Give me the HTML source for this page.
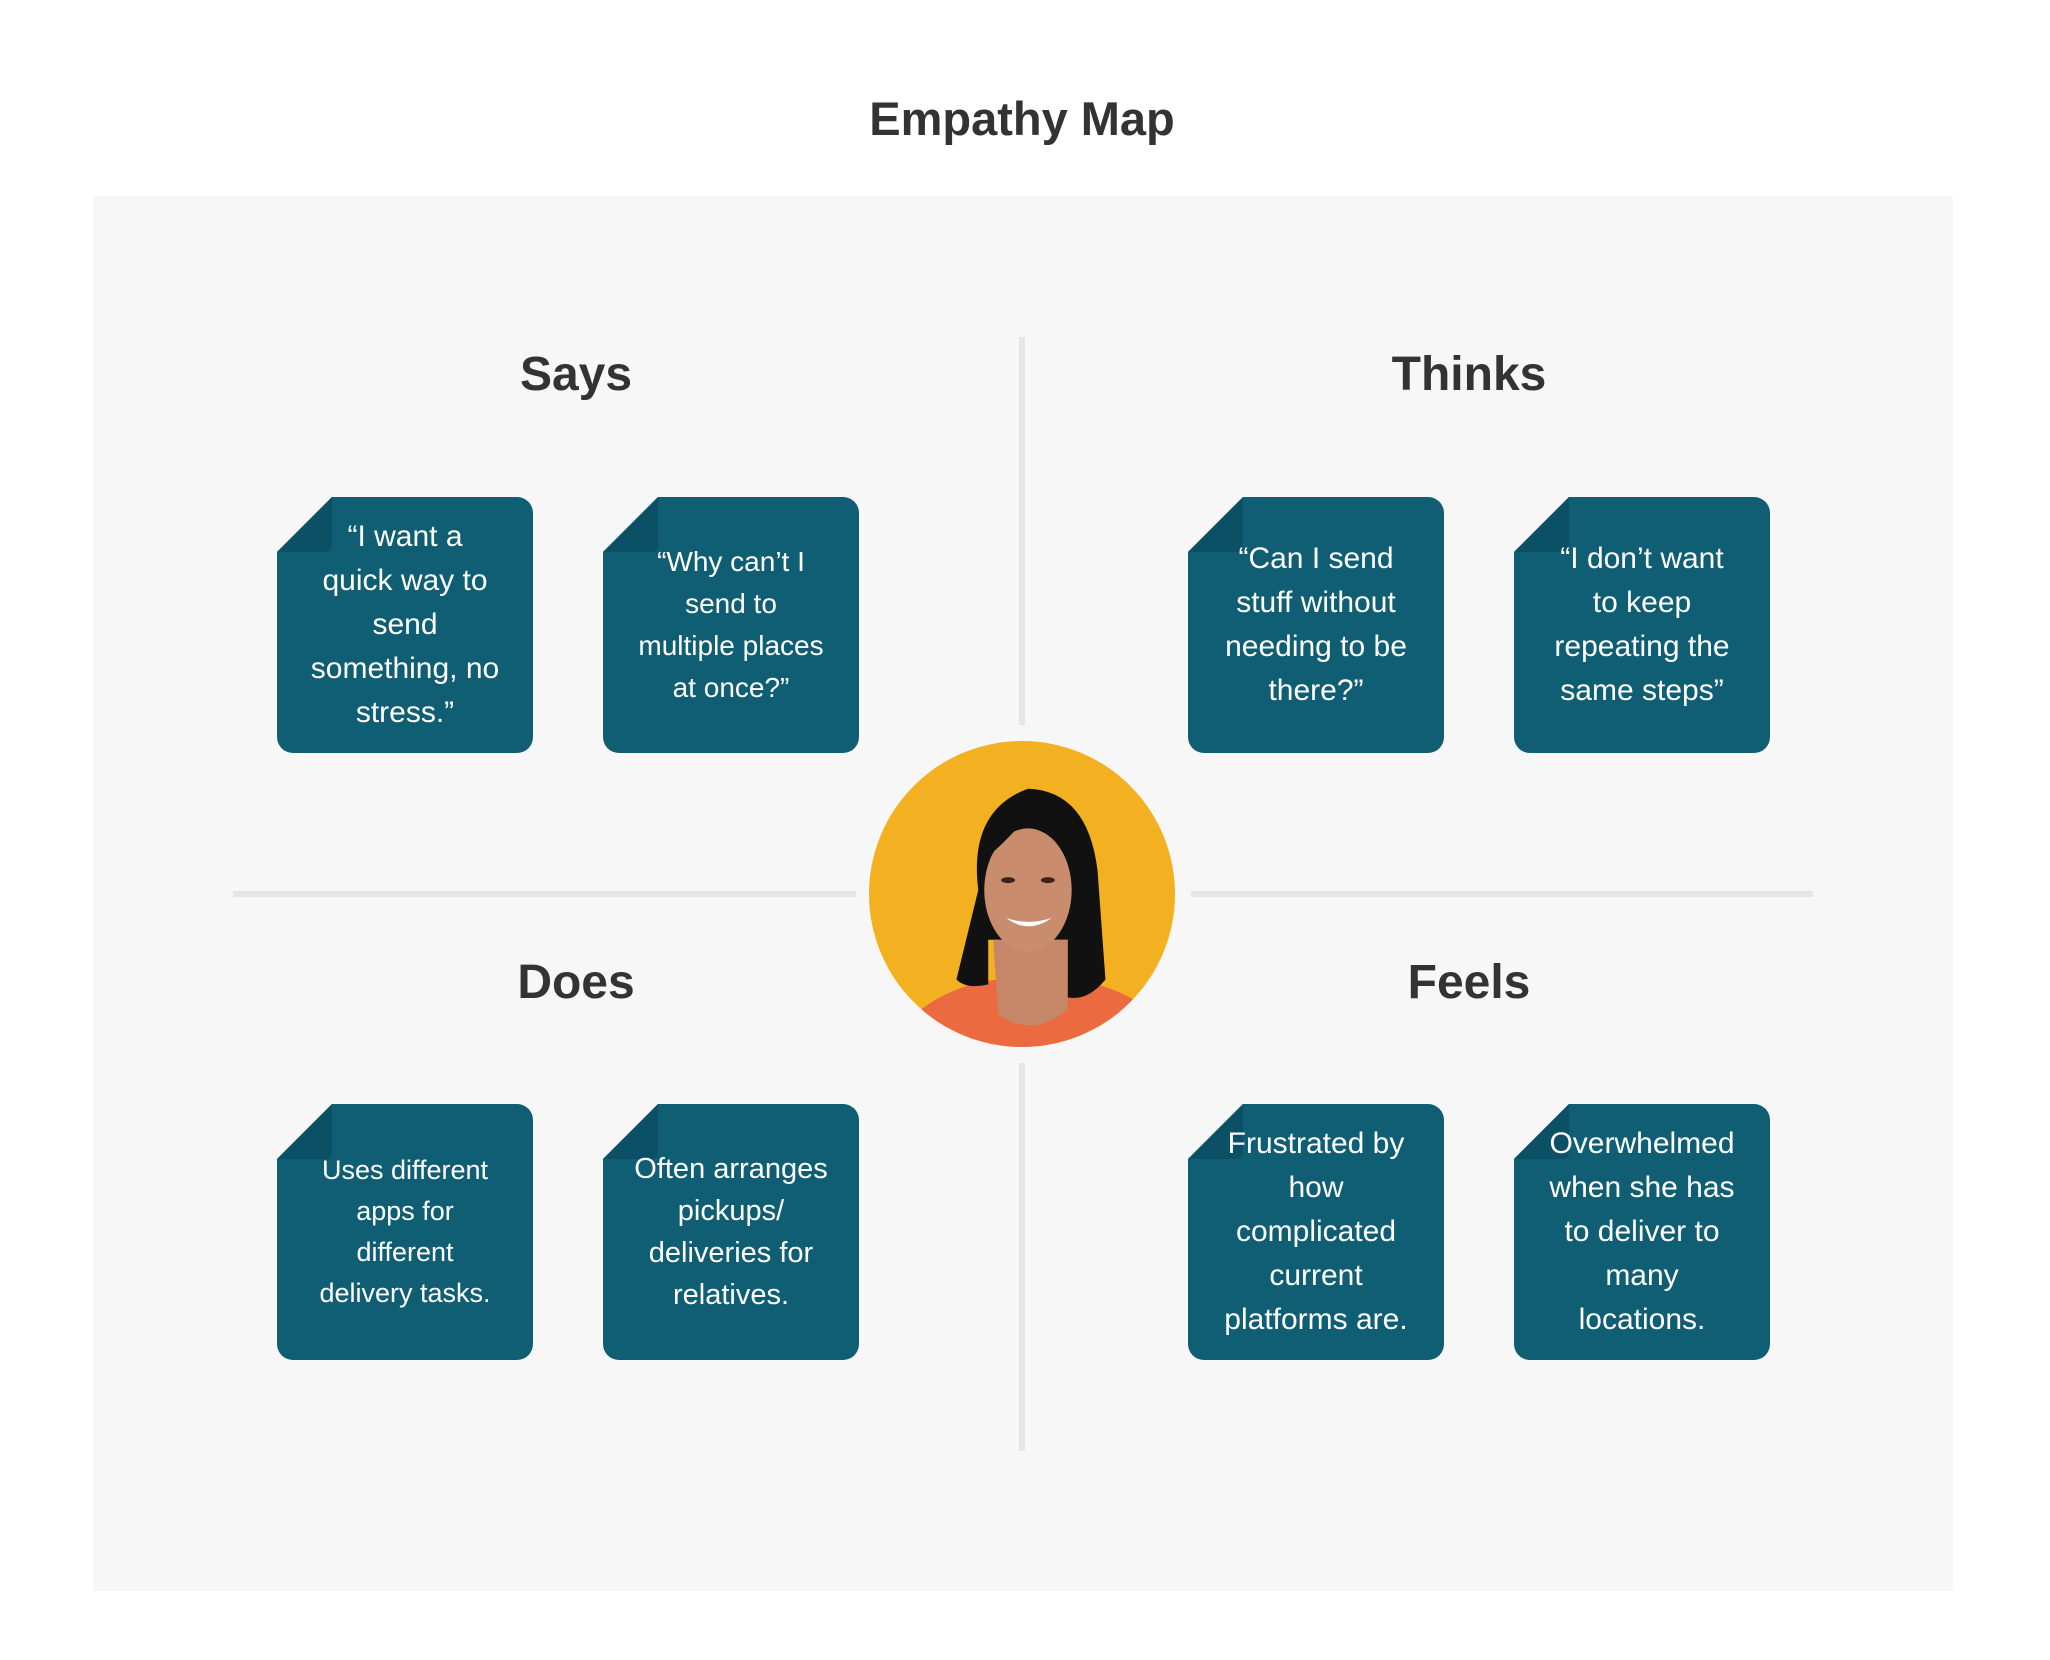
<!DOCTYPE html>
<html><head><meta charset="utf-8"><style>
body{margin:0;width:2050px;height:1660px;background:#fff;position:relative;overflow:hidden;font-family:"Liberation Sans",sans-serif;}
.abs{position:absolute}
.title{left:0;width:2044px;top:89px;text-align:center;font-weight:bold;font-size:47px;color:#333;line-height:60px}
.panel{left:93px;top:196px;width:1860px;height:1395px;background:#f7f7f7}
.h{font-weight:bold;font-size:48px;color:#333;width:400px;text-align:center;line-height:60px}
.line{background:#e6e6e6}
.nb{width:256px;height:256px;background:#105e73;border-radius:0 16px 16px 16px;clip-path:polygon(55px 0,100% 0,100% 100%,0 100%,0 55px);}
.fold{width:55px;height:55px;background:#0c5065;clip-path:polygon(55px 0,55px 55px,0 55px);border-radius:0 0 6px 0}
.tx{width:256px;height:256px;display:flex;align-items:center;justify-content:center;text-align:center;color:#fff;white-space:nowrap}
</style></head><body>
<div class="abs title">Empathy Map</div>
<div class="abs panel"></div>
<div class="abs line" style="left:1019px;top:337px;width:6px;height:388px"></div>
<div class="abs line" style="left:1019px;top:1063px;width:6px;height:388px"></div>
<div class="abs line" style="left:233px;top:891px;width:623px;height:6px"></div>
<div class="abs line" style="left:1191px;top:891px;width:622px;height:6px"></div>
<div class="abs h" style="left:376px;top:345px">Says</div>
<div class="abs h" style="left:1269px;top:345px">Thinks</div>
<div class="abs h" style="left:376px;top:953px">Does</div>
<div class="abs h" style="left:1269px;top:953px">Feels</div>

<div class="abs nb" style="left:277px;top:497px"></div><div class="abs fold" style="left:277px;top:497px"></div>
<div class="abs tx" style="left:277px;top:497px;font-size:30px;line-height:44px"><div>“I want a<br>quick way to<br>send<br>something, no<br>stress.”</div></div>

<div class="abs nb" style="left:603px;top:497px"></div><div class="abs fold" style="left:603px;top:497px"></div>
<div class="abs tx" style="left:603px;top:497px;font-size:28px;line-height:42px"><div>“Why can’t I<br>send to<br>multiple places<br>at once?”</div></div>

<div class="abs nb" style="left:1188px;top:497px"></div><div class="abs fold" style="left:1188px;top:497px"></div>
<div class="abs tx" style="left:1188px;top:497px;font-size:30px;line-height:44px"><div>“Can I send<br>stuff without<br>needing to be<br>there?”</div></div>

<div class="abs nb" style="left:1514px;top:497px"></div><div class="abs fold" style="left:1514px;top:497px"></div>
<div class="abs tx" style="left:1514px;top:497px;font-size:30px;line-height:44px"><div>“I don’t want<br>to keep<br>repeating the<br>same steps”</div></div>

<div class="abs nb" style="left:277px;top:1104px"></div><div class="abs fold" style="left:277px;top:1104px"></div>
<div class="abs tx" style="left:277px;top:1104px;font-size:27px;line-height:41px"><div>Uses different<br>apps for<br>different<br>delivery tasks.</div></div>

<div class="abs nb" style="left:603px;top:1104px"></div><div class="abs fold" style="left:603px;top:1104px"></div>
<div class="abs tx" style="left:603px;top:1104px;font-size:29px;line-height:42px"><div>Often arranges<br>pickups/<br>deliveries for<br>relatives.</div></div>

<div class="abs nb" style="left:1188px;top:1104px"></div><div class="abs fold" style="left:1188px;top:1104px"></div>
<div class="abs tx" style="left:1188px;top:1104px;font-size:30px;line-height:44px"><div>Frustrated by<br>how<br>complicated<br>current<br>platforms are.</div></div>

<div class="abs nb" style="left:1514px;top:1104px"></div><div class="abs fold" style="left:1514px;top:1104px"></div>
<div class="abs tx" style="left:1514px;top:1104px;font-size:30px;line-height:44px"><div>Overwhelmed<br>when she has<br>to deliver to<br>many<br>locations.</div></div>

<svg class="abs" style="left:869px;top:741px" width="306" height="306" viewBox="0 0 308 308">
<defs><clipPath id="c"><circle cx="154" cy="154" r="154"/></clipPath></defs>
<g clip-path="url(#c)">
<rect width="308" height="308" fill="#f3b020"/>
<path d="M40 280 Q80 245 130 240 L200 240 Q250 245 280 270 L300 320 L20 320Z" fill="#ec6a3f"/>
<path d="M110 150 Q100 70 160 48 Q220 50 230 130 L238 240 Q220 262 200 258 L200 200 L120 200 L120 245 Q98 250 88 240 Z" fill="#111"/>
<path d="M125 200 L130 275 Q165 300 200 270 L200 200Z" fill="#c68668"/>
<ellipse cx="160" cy="150" rx="44" ry="62" fill="#c98d6e"/>
<path d="M116 120 Q130 75 165 68 Q150 90 116 120Z" fill="#111"/>
<path d="M165 68 Q200 80 206 125 Q190 90 165 68Z" fill="#111"/>
<path d="M138 178 Q160 195 184 178 Q160 186 138 178Z" fill="#fff"/>
<ellipse cx="140" cy="140" rx="7" ry="3" fill="#3a2418"/>
<ellipse cx="180" cy="140" rx="7" ry="3" fill="#3a2418"/>
</g></svg>
</body></html>
